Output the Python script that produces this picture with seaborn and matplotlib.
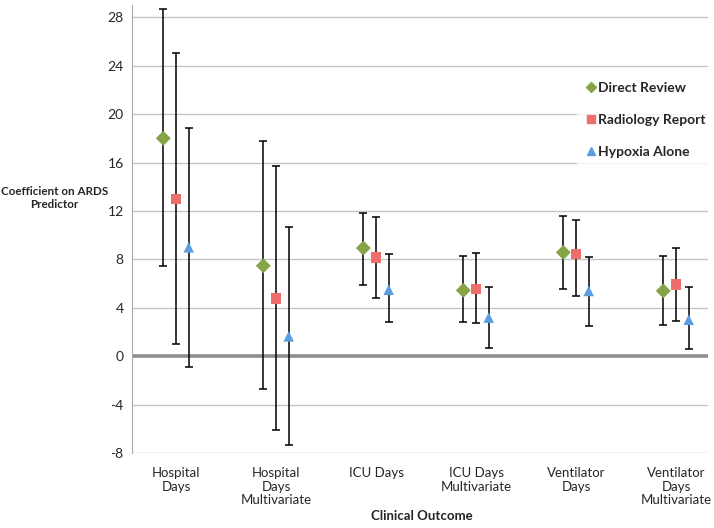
import matplotlib
matplotlib.use("Agg")
import matplotlib.pyplot as plt
import seaborn as sns
import numpy as np
import pandas as pd

outcomes = ["Hospital\nDays", "Hospital\nDays\nMultivariate", "ICU Days",
            "ICU Days\nMultivariate", "Ventilator\nDays", "Ventilator\nDays\nMultivariate"]
methods = ["Direct Review", "Radiology Report", "Hypoxia Alone"]

# point estimate, lower and upper bound per method (one value per outcome)
direct_est = [18.0, 7.48, 8.94, 5.45, 8.58, 5.40]
direct_lo = [7.43, -2.69, 5.92, 2.81, 5.59, 2.59]
direct_hi = [28.66, 17.74, 11.83, 8.31, 11.58, 8.31]

radio_est = [13.0, 4.79, 8.17, 5.56, 8.45, 5.94]
radio_lo = [1.02, -6.07, 4.82, 2.73, 5.01, 2.92]
radio_hi = [25.03, 15.73, 11.50, 8.53, 11.28, 8.94]

hypox_est = [9.0, 1.65, 5.50, 3.20, 5.40, 3.02]
hypox_lo = [-0.88, -7.29, 2.81, 0.72, 2.48, 0.61]
hypox_hi = [18.87, 10.70, 8.45, 5.70, 8.20, 5.69]

yticks = [-8, -4, 0, 4, 8, 12, 16, 20, 24, 28]


def main():
    rows = []
    series = [(direct_est, direct_lo, direct_hi),
              (radio_est, radio_lo, radio_hi),
              (hypox_est, hypox_lo, hypox_hi)]
    offsets = [-0.127, 0.0, 0.127]
    for m, (est, lo, hi), off in zip(methods, series, offsets):
        for i in range(len(outcomes)):
            rows.append({"method": m, "pos": i + off, "est": est[i],
                         "lo": lo[i], "hi": hi[i]})
    df = pd.DataFrame(rows)

    sns.set_style("white")
    plt.rcParams["font.family"] = ["Lato", "DejaVu Sans"]
    plt.rcParams["axes.unicode_minus"] = False

    fig = plt.figure(figsize=(7.14, 5.28), dpi=100)
    ax = fig.add_axes([0.1849, 0.1415, 0.8067, 0.849])

    ax.yaxis.grid(True, color="#c4c4c4", lw=1)
    ax.set_axisbelow(True)
    ax.axhline(0, color="#8f8f8f", lw=2.6, zorder=1)

    ax.errorbar(df["pos"], df["est"],
                yerr=[df["est"] - df["lo"], df["hi"] - df["est"]],
                fmt="none", ecolor="black", elinewidth=1.1, capsize=3,
                capthick=1.1, zorder=2)

    palette = {"Direct Review": "#84a446", "Radiology Report": "#ee6e6c",
               "Hypoxia Alone": "#5a9de0"}
    markers = {"Direct Review": "D", "Radiology Report": "s", "Hypoxia Alone": "^"}
    sns.scatterplot(ax=ax, data=df, x="pos", y="est", hue="method", style="method",
                    palette=palette, markers=markers, s=58, linewidth=0.6,
                    edgecolor="none", zorder=3, legend=False)

    ax.set_xlim(-0.44, 5.32)
    ax.set_ylim(-8, 29)
    ax.set_yticks(yticks)
    ax.set_xticks(range(len(outcomes)))
    ax.set_xticklabels(outcomes, fontsize=9.5, linespacing=1.15, va="top")
    ax.tick_params(axis="both", length=0, labelsize=10)
    ax.tick_params(axis="x", pad=10, labelsize=9.5)
    ax.tick_params(axis="y", pad=6)
    for s in ["top", "right", "bottom"]:
        ax.spines[s].set_visible(False)
    ax.spines["left"].set_color("#a9a9a9")
    ax.set_xlabel("")
    ax.set_ylabel("")

    fig.text(0.076, 0.625, "Coefficient on ARDS\nPredictor", ha="center", va="center",
             fontsize=8.4, fontweight="bold", linespacing=1.3)
    fig.text(0.591, 0.023, "Clinical Outcome", ha="center", va="center",
             fontsize=9.5, fontweight="bold")

    handles = [plt.Line2D([], [], ls="none", marker=markers[m], color=palette[m],
                          markersize=6 if m != "Direct Review" else 5)
               for m in methods]
    leg = ax.legend(handles, methods, loc="upper left", bbox_to_anchor=(0.772, 0.85),
                    frameon=True, fancybox=False, handlelength=0.6, handletextpad=0.25,
                    labelspacing=1.45, borderpad=0.7, borderaxespad=0,
                    prop={"weight": "bold", "size": 10})
    leg.get_frame().set_facecolor("white")
    leg.get_frame().set_edgecolor("white")

    fig.savefig("out.png", dpi=100)


if __name__ == "__main__":
    main()
